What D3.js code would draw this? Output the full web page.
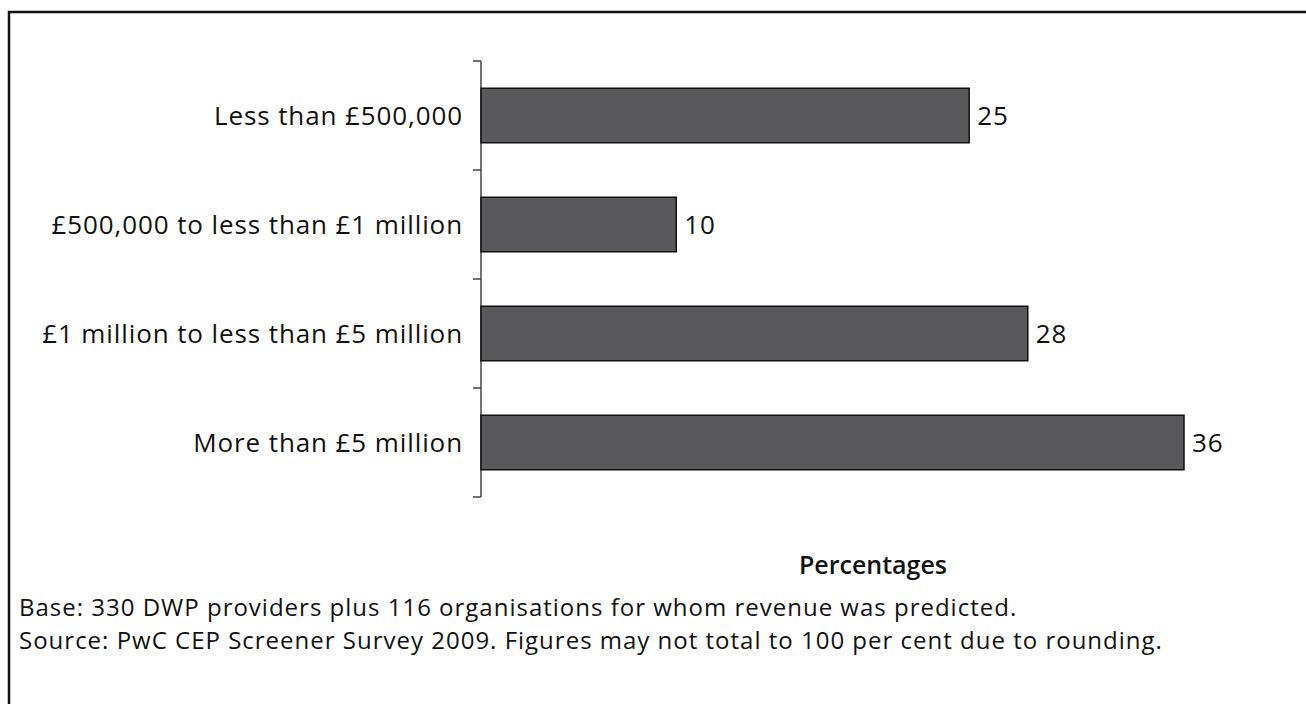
<!DOCTYPE html>
<html>
<head>
<meta charset="utf-8">
<script src="https://cdn.jsdelivr.net/npm/d3@7"></script>
<style>
  body { margin: 0; background: #fff; }
  svg { display: block; font-family: "Open Sans", sans-serif; }
</style>
</head>
<body>
<div id="svg-container"></div>
<script>
// data
const categories = [
  "Less than £500,000",
  "£500,000 to less than £1 million",
  "£1 million to less than £5 million",
  "More than £5 million"
];
const values = [25, 10, 28, 36];
const xLabel = "Percentages";
const notes = [
  "Base: 330 DWP providers plus 116 organisations for whom revenue was predicted.",
  "Source: PwC CEP Screener Survey 2009. Figures may not total to 100 per cent due to rounding."
];

const width = 1306, height = 704;
const margin = { top: 61, left: 481, bottom: 207 };

const svg = d3.select("#svg-container").append("svg")
  .attr("width", width).attr("height", height);

// frame
svg.append("rect")
  .attr("x", 9).attr("y", 12)
  .attr("width", width + 20).attr("height", height + 20)
  .attr("fill", "none").attr("stroke", "#111").attr("stroke-width", 2.5);

// scales
const xScale = d3.scaleLinear().domain([0, 36]).range([margin.left, margin.left + 703]);
const yScale = d3.scaleBand().domain(categories)
  .range([margin.top, height - margin.bottom]).paddingInner(0.5).paddingOuter(0.25);

// y axis, ticks sit on the band boundaries
const axisG = svg.append("g");
axisG.append("line")
  .attr("x1", margin.left).attr("x2", margin.left)
  .attr("y1", margin.top).attr("y2", height - margin.bottom)
  .attr("stroke", "#444").attr("stroke-width", 1.5);
const bounds = d3.range(categories.length + 1)
  .map(i => margin.top + i * (height - margin.bottom - margin.top) / categories.length);
axisG.selectAll(".tick").data(bounds).enter().append("line")
  .attr("x1", margin.left - 8).attr("x2", margin.left)
  .attr("y1", d => d).attr("y2", d => d)
  .attr("stroke", "#444").attr("stroke-width", 1.5);

// category labels
svg.selectAll(".cat").data(categories).enter().append("text")
  .attr("x", margin.left - 18)
  .attr("y", d => yScale(d) + yScale.bandwidth() / 2)
  .attr("dy", "0.35em")
  .attr("text-anchor", "end")
  .attr("font-size", 26)
  .attr("letter-spacing", 0.9)
  .attr("fill", "#111")
  .text(d => d);

// bars
svg.selectAll(".bar").data(values).enter().append("rect")
  .attr("x", xScale(0))
  .attr("y", (d, i) => yScale(categories[i]))
  .attr("width", d => xScale(d) - xScale(0))
  .attr("height", yScale.bandwidth())
  .attr("fill", "#59595b")
  .attr("stroke", "#111").attr("stroke-width", 1.5);

// value labels
svg.selectAll(".val").data(values).enter().append("text")
  .attr("x", d => xScale(d) + 8)
  .attr("y", (d, i) => yScale(categories[i]) + yScale.bandwidth() / 2)
  .attr("dy", "0.35em")
  .attr("font-size", 26)
  .attr("letter-spacing", 0.9)
  .attr("fill", "#111")
  .text(d => d);

// x axis title
svg.append("text")
  .attr("x", 873).attr("y", 565)
  .attr("dy", "0.35em")
  .attr("text-anchor", "middle")
  .attr("font-size", 25)
  .attr("font-weight", 600)
  .attr("fill", "#111")
  .text(xLabel);

// notes
svg.selectAll(".note").data(notes).enter().append("text")
  .attr("x", 19)
  .attr("y", (d, i) => 608 + i * 33)
  .attr("dy", "0.35em")
  .attr("font-size", 24)
  .attr("letter-spacing", 1)
  .attr("fill", "#111")
  .text(d => d);
</script>
</body>
</html>
